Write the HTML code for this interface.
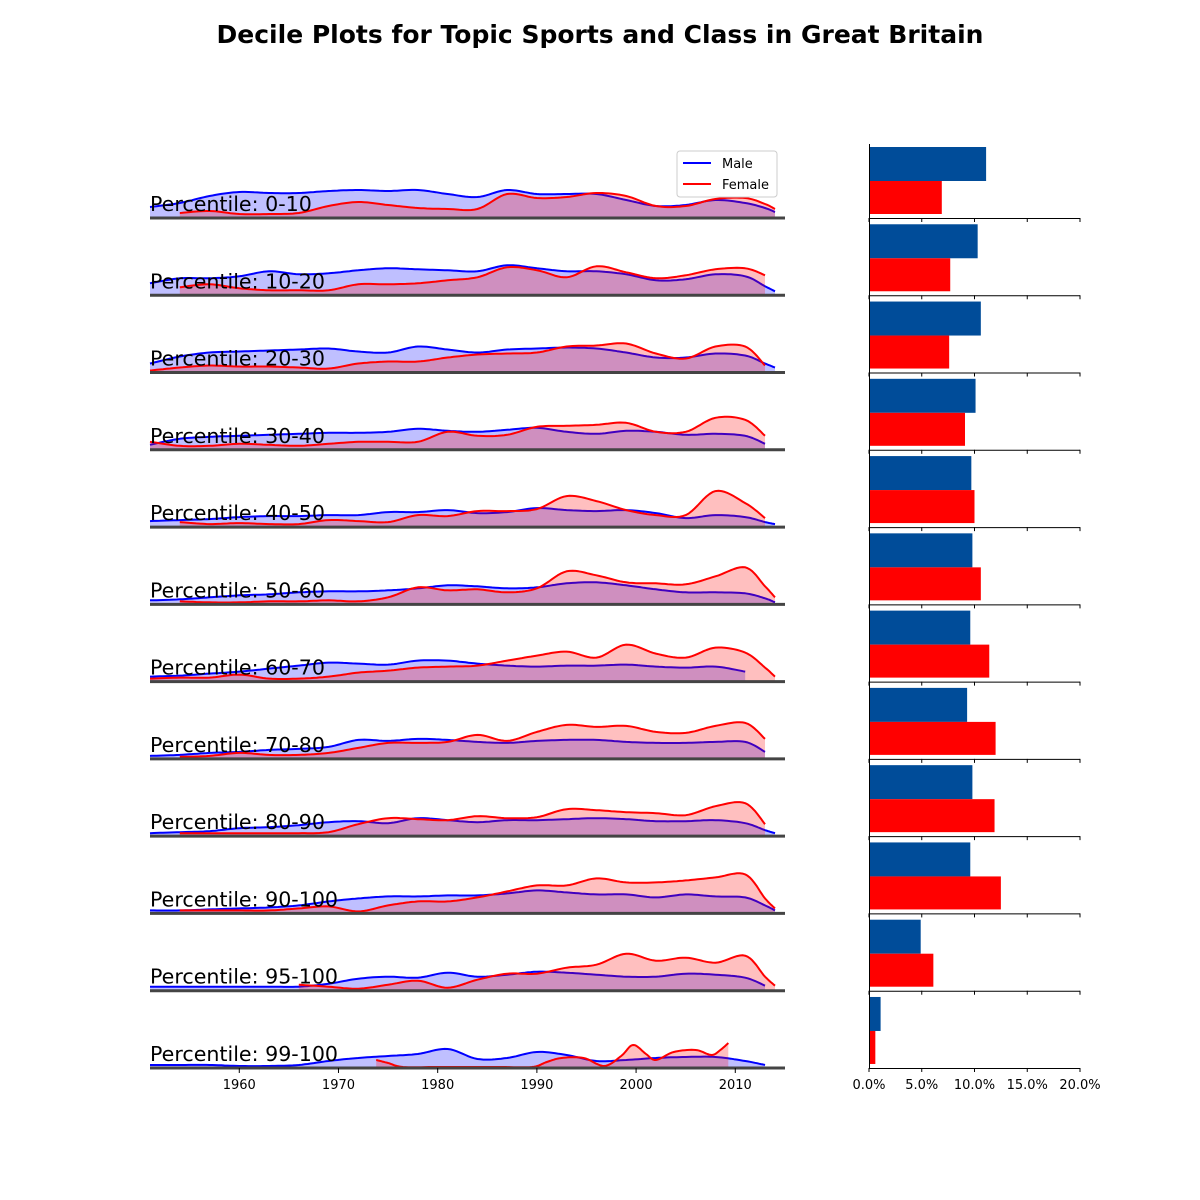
<!DOCTYPE html>
<html><head><meta charset="utf-8">
<style>
html,body{margin:0;padding:0;background:#fff;}
svg{display:block;font-family:"DejaVu Sans","Liberation Sans",sans-serif;}
</style></head>
<body>
<svg id="chart" width="1200" height="1200" viewBox="0 0 1200 1200" xmlns="http://www.w3.org/2000/svg">
<rect width="1200" height="1200" fill="#fff"/>
<text x="600" y="43" text-anchor="middle" font-size="25" font-weight="bold" fill="#000">Decile Plots for Topic Sports and Class in Great Britain</text>
<g id="ridges"></g>
<g id="bars"></g>
<g id="legend">
  <rect x="677" y="151" width="100" height="46" rx="3" fill="#fff" fill-opacity="0.8" stroke="#ccc"/>
  <line x1="683" y1="163" x2="711" y2="163" stroke="#0000ff" stroke-width="2"/>
  <text x="722" y="168" font-size="13">Male</text>
  <line x1="683" y1="184" x2="711" y2="184" stroke="#ff0000" stroke-width="2"/>
  <text x="722" y="189" font-size="13">Female</text>
</g>
</svg>
<script>
const years=[1951,1954,1957,1960,1963,1966,1969,1972,1975,1978,1981,1984,1987,1990,1993,1996,1999,2002,2005,2008,2011,2013,2014];
const rowLabels=["0-10","10-20","20-30","30-40","40-50","50-60","60-70","70-80","80-90","90-100","95-100","99-100"];
const maleHeights=[
[11,15,22,26,25,25,27,28,27,28,24,21,28,24,24,24,18,12,13,18,15,10,6],
[12,17,17,19,24,21,22,25,27,26,25,24,30,27,24,24,21,15,16,21,19,9,4],
[9,16,20,21,22,23,24,21,20,26,23,20,23,24,25,24,20,15,15,19,17,9,5],
[5,11,13,14,15,16,17,17,18,21,19,18,20,22,18,16,19,18,15,16,14,6,null],
[6,7,8,10,11,11,12,12,15,15,17,14,15,19,17,16,17,14,9,12,10,5,3],
[4,5,7,9,10,12,13,13,14,16,19,18,16,17,21,22,19,15,12,12,11,6,2],
[5,6,8,10,13,16,19,18,17,21,21,18,16,15,16,16,17,15,14,15,10,null,null],
[3,4,6,7,9,10,12,19,18,20,19,17,16,18,19,19,17,16,16,17,17,7,null],
[3,4,5,8,9,11,14,15,13,18,16,14,16,16,17,18,17,15,15,16,13,6,3],
[3,3,4,5,6,8,12,15,17,17,18,18,20,23,21,19,19,16,19,17,16,8,3],
[4,4,4,4,4,4,7,12,14,13,18,14,16,19,18,16,14,14,17,16,13,5,null],
[3,3,3,2,2,3,7,10,12,14,19,9,10,16,13,7,8,10,11,11,7,3,null]
];
const femaleHeights=[
[null,5,7,4,4,5,12,16,13,10,9,9,24,20,21,25,22,12,12,19,20,14,9],
[null,8,11,7,5,5,5,11,11,12,15,18,28,25,18,29,23,17,20,26,27,20,null],
[2,5,7,6,6,5,4,9,11,11,15,18,19,20,26,27,29,19,14,26,26,7,null],
[8,4,4,6,5,4,6,8,8,8,18,14,15,23,24,25,27,18,18,32,30,14,null],
[null,5,3,4,3,3,7,6,5,12,11,16,16,18,31,26,17,12,12,36,24,9,null],
[null,3,2,2,3,3,4,3,7,17,14,15,12,16,33,29,22,21,20,28,37,18,7],
[3,4,4,7,3,3,5,9,11,14,15,16,21,26,30,24,37,28,24,34,29,14,5],
[null,2,3,6,4,4,6,11,16,16,17,24,18,27,34,32,33,27,26,33,36,20,null],
[null,3,3,3,3,3,4,12,18,17,16,20,18,19,27,26,24,23,21,30,33,12,null],
[null,3,3,3,3,5,7,2,8,12,12,16,22,28,28,35,31,31,33,36,39,15,5],
[null,null,null,null,null,6,4,2,6,10,3,11,17,17,23,26,37,30,33,28,35,14,5],
null
];
const lastFemaleYears=[1973.8,1975,1976.5,1980,1986,1989.5,1991,1992.5,1994.7,1996.8,1998.5,1999.7,2001,2002,2003.8,2006,2007.6,2008.5,2009.3];
const lastFemaleHeights=[8,5,1,1,1,1,6,10,10,2,12,23,14,8,16,18,13,18,25];
const maleShare=[11.1,10.3,10.6,10.1,9.7,9.8,9.6,9.3,9.8,9.6,4.9,1.1];
const femaleShare=[6.9,7.7,7.6,9.1,10.0,10.6,11.4,12.0,11.9,12.5,6.1,0.6];
const yearTicks=[1960,1970,1980,1990,2000,2010];
const pctTicks=[0,5,10,15,20];

const NS="http://www.w3.org/2000/svg";
const ridges=document.getElementById('ridges');
const bars=document.getElementById('bars');
function mk(tag,attrs,parent){const e=document.createElementNS(NS,tag);for(const k in attrs)e.setAttribute(k,attrs[k]);parent.appendChild(e);return e;}
const xScale=yr=>150+(yr-1951)*9.92;
const rowBase=i=>218+i*77.27;
const hScale=v=>v*1.0;
const pScale=p=>869+p*10.55;

function smooth(pts){
  if(pts.length<2)return pts;
  const out=[];
  for(let i=0;i<pts.length-1;i++){
    const p0=pts[Math.max(0,i-1)],p1=pts[i],p2=pts[i+1],p3=pts[Math.min(pts.length-1,i+2)];
    for(let t=0;t<1;t+=0.1){
      const t2=t*t,t3=t2*t;
      const x=0.5*((2*p1[0])+(-p0[0]+p2[0])*t+(2*p0[0]-5*p1[0]+4*p2[0]-p3[0])*t2+(-p0[0]+3*p1[0]-3*p2[0]+p3[0])*t3);
      const y=0.5*((2*p1[1])+(-p0[1]+p2[1])*t+(2*p0[1]-5*p1[1]+4*p2[1]-p3[1])*t2+(-p0[1]+3*p1[1]-3*p2[1]+p3[1])*t3);
      out.push([x,y]);
    }
  }
  out.push(pts[pts.length-1]);
  return out;
}
function drawSeries(yrs,vals,base,color,fill,name){
  const pts=[];
  yrs.forEach((y,i)=>{if(vals[i]!==null&&vals[i]!==undefined)pts.push([xScale(y),Math.min(base,base-hScale(vals[i]))]);});
  const sp=smooth(pts).map(p=>[p[0],Math.min(base,p[1])]);
  const d=sp.map((p,i)=>(i?'L':'M')+p[0].toFixed(1)+' '+p[1].toFixed(1)).join(' ');
  const f=mk('path',{d:d+` L${sp[sp.length-1][0].toFixed(1)} ${base} L${sp[0][0].toFixed(1)} ${base} Z`,fill:fill,stroke:'none'},ridges);
  
  
  const l=mk('path',{d:d,fill:'none',stroke:color,'stroke-width':2,'stroke-linejoin':'round'},ridges);
  
  
}
rowLabels.forEach((lab,i)=>{
  const base=rowBase(i);
  drawSeries(years,maleHeights[i],base,'#0000ff','rgba(0,0,255,0.25)','male-ridge-'+lab);
  if(femaleHeights[i])drawSeries(years,femaleHeights[i],base,'#ff0000','rgba(255,0,0,0.25)','female-ridge-'+lab);
  else drawSeries(lastFemaleYears,lastFemaleHeights,base,'#ff0000','rgba(255,0,0,0.25)','female-ridge-'+lab);
  const bl=mk('line',{x1:150,x2:785,y1:base,y2:base,stroke:'#444','stroke-width':3},ridges);
  
  
  const t=mk('text',{x:150,y:base-7,'font-size':20.6,fill:'#000'},ridges);
  t.textContent='Percentile: '+lab;
  
  
  const mb=mk('rect',{x:869,y:base-71,width:pScale(maleShare[i])-869,height:34,fill:'#004c99'},bars);
  
  
  const fb=mk('rect',{x:869,y:base-37,width:pScale(femaleShare[i])-869,height:33,fill:'#ff0000'},bars);
  
  
  const ax=mk('line',{x1:869,x2:1080,y1:base+0.5,y2:base+0.5,stroke:'#000','stroke-width':1},bars);
  
  
  pctTicks.forEach(p=>{
    const tk=mk('line',{x1:pScale(p),x2:pScale(p),y1:base,y2:base+4,stroke:'#000','stroke-width':1},bars);
    
    
  });
});
const spine=mk('line',{x1:869.5,x2:869.5,y1:144,y2:rowBase(11),stroke:'#000','stroke-width':1},bars);


const lastBase=rowBase(11);
pctTicks.forEach(p=>{
  const t=mk('text',{x:pScale(p),y:lastBase+21,'font-size':13,'text-anchor':'middle'},bars);
  t.textContent=p.toFixed(1)+'%';
  
  
});
yearTicks.forEach(y=>{
  const tk=mk('line',{x1:xScale(y),x2:xScale(y),y1:lastBase,y2:lastBase+5,stroke:'#000','stroke-width':1},ridges);
  
  
  const t=mk('text',{x:xScale(y),y:lastBase+21,'font-size':13,'text-anchor':'middle'},ridges);
  t.textContent=String(y);
  
  
});
</script>
</body></html>
